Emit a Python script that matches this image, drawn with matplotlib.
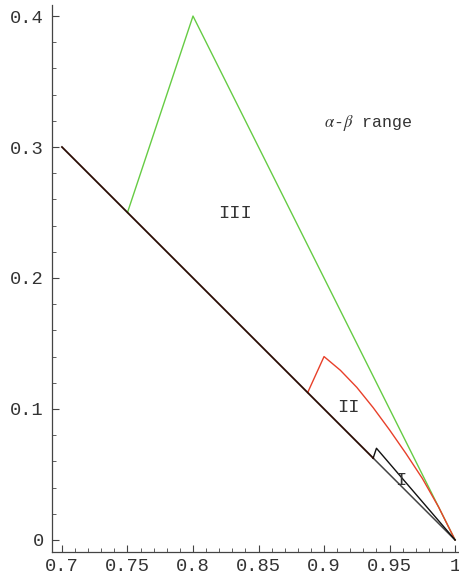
import matplotlib
matplotlib.use("Agg")
import matplotlib.pyplot as plt
from matplotlib.ticker import MultipleLocator, FuncFormatter

# boundary line alpha + beta = 1
line_x = [0.7, 0.9375]
line_y = [0.3, 0.0625]
tail_x = [0.9375, 1.0]
tail_y = [0.0625, 0.0]

# region III (green)
green_x = [0.75, 0.8, 1.0]
green_y = [0.25, 0.4, 0.0]

# region II (red)
red_x = [0.8875, 0.9, 0.9125, 0.925, 0.9375, 0.95, 0.9625, 0.975, 0.9875, 1.0]
red_y = [0.1125, 0.14, 0.1295, 0.1165, 0.101, 0.084, 0.066, 0.047, 0.025, 0.0]

# region I (black)
small_x = [0.9375, 0.94, 1.0]
small_y = [0.0625, 0.07, 0.0]

region_labels = ["III", "II", "I"]
label_pos = [(0.832, 0.2496), (0.9183, 0.1008), (0.9588, 0.045)]

mono = "Liberation Mono"
plt.rcParams["mathtext.fontset"] = "stix"

fig = plt.figure(figsize=(4.59, 5.8), dpi=100)
ax = fig.add_axes([0.1133, 0.0483, 0.885, 0.943])

ax.plot(green_x, green_y, color="#66cc44", lw=1.0)
ax.plot(red_x, red_y, color="#e8402a", lw=1.0)
ax.plot(tail_x, tail_y, color="#444444", lw=1.1)
ax.plot(small_x, small_y, color="#111111", lw=1.0)
ax.plot(line_x, line_y, color="#2a0c04", lw=1.3)

for lab, (lx, ly) in zip(region_labels, label_pos):
    ax.text(lx, ly, lab, family=mono, fontsize=13.5, color="#333333",
            ha="center", va="center")

ax.text(0.9336, 0.318, r"$\alpha$-$\beta$ range", family=mono, fontsize=12,
        color="#333333", ha="center", va="center")

ax.set_xlim(0.6924, 1.0024)
ax.set_ylim(-0.0092, 0.4084)

for s in ["top", "right"]:
    ax.spines[s].set_visible(False)
for s in ["left", "bottom"]:
    ax.spines[s].set_color("#444444")
    ax.spines[s].set_linewidth(0.9)

ax.xaxis.set_major_locator(MultipleLocator(0.05))
ax.xaxis.set_minor_locator(MultipleLocator(0.01))
ax.yaxis.set_major_locator(MultipleLocator(0.1))
ax.yaxis.set_minor_locator(MultipleLocator(0.02))

def fmt(v, pos):
    s = f"{v:.2f}".rstrip("0").rstrip(".")
    return "0" if s in ("0", "-0") else s

ax.xaxis.set_major_formatter(FuncFormatter(fmt))
ax.yaxis.set_major_formatter(FuncFormatter(fmt))

ax.tick_params(which="major", direction="in", length=5, width=0.8,
               color="#444444", labelsize=13.5, labelcolor="#333333")
ax.tick_params(which="minor", direction="in", length=3, width=0.6,
               color="#444444")
for lab in ax.get_xticklabels() + ax.get_yticklabels():
    lab.set_family(mono)
ax.tick_params(axis="x", pad=4)
ax.tick_params(axis="y", pad=6)

fig.savefig("out.png", dpi=100)
